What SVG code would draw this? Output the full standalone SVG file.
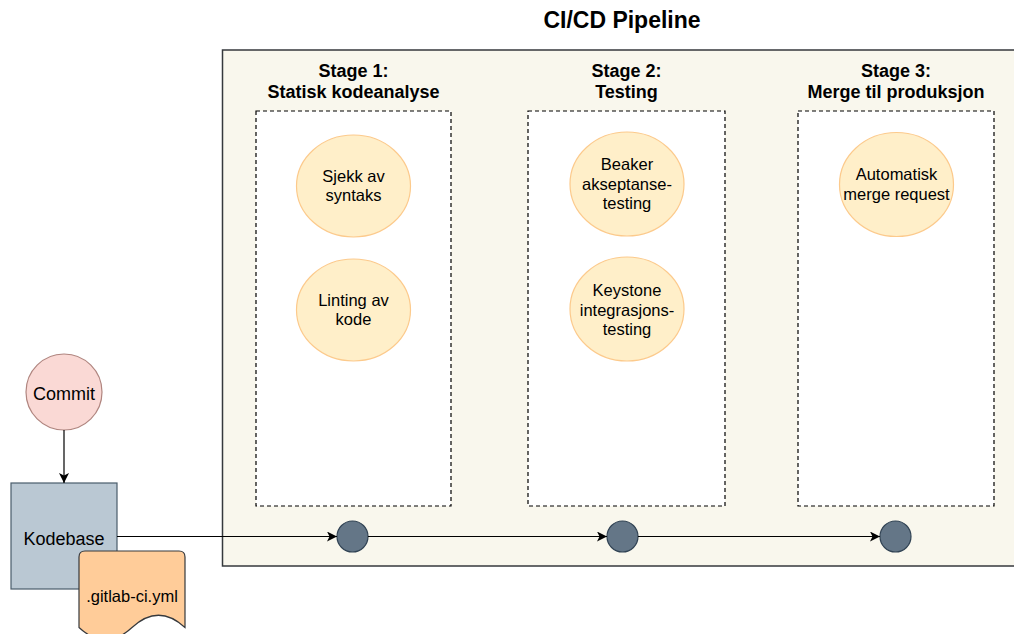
<svg xmlns="http://www.w3.org/2000/svg" width="1014" height="634" viewBox="0 0 1014 634">
  <style>
    text { font-family: "Liberation Sans", Arial, sans-serif; fill: #000; text-anchor: middle; }
    .title { font-size: 23px; font-weight: bold; }
    .stage { font-size: 18px; font-weight: bold; }
    .lbl { font-size: 16.5px; }
    .big { font-size: 18px; }
    .step { fill: #ffefc9; stroke: #fcca8c; stroke-width: 1.2; }
    .lane { fill: #ffffff; stroke: #000; stroke-width: 1.2; stroke-dasharray: 4 3; }
    .gate { fill: #647687; stroke: #314354; stroke-width: 1.2; }
    .edge { fill: none; stroke: #000; stroke-width: 1.2; }
  </style>
  <defs>
    <marker id="arrow" viewBox="0 0 10 10" refX="10" refY="5" markerWidth="10" markerHeight="10" markerUnits="userSpaceOnUse" orient="auto">
      <path d="M0,0 L10,5 L0,10 L2.5,5 Z" fill="#000"/>
    </marker>
  </defs>

  <rect width="1014" height="634" fill="#ffffff"/>

  <text class="title" x="622" y="28">CI/CD Pipeline</text>

  <!-- pipeline container -->
  <g id="pipeline">
    <rect x="222.5" y="50" width="800" height="516" fill="#f9f7ed" stroke="#36393d" stroke-width="1.5"/>
  </g>

  <!-- stage 1 -->
  <g id="stage1">
    <text class="stage" x="353.5" y="77">Stage 1:</text>
    <text class="stage" x="353.5" y="98">Statisk kodeanalyse</text>
    <rect class="lane" x="256" y="111" width="195" height="395"/>
  </g>
  <g id="syntax-check">
    <ellipse class="step" cx="353.5" cy="186" rx="57" ry="51"/>
    <text class="lbl" x="353.5" y="182">Sjekk av</text>
    <text class="lbl" x="353.5" y="201">syntaks</text>
  </g>
  <g id="linting">
    <ellipse class="step" cx="353.5" cy="310" rx="57" ry="51"/>
    <text class="lbl" x="353.5" y="306">Linting av</text>
    <text class="lbl" x="353.5" y="325">kode</text>
  </g>

  <!-- stage 2 -->
  <g id="stage2">
    <text class="stage" x="626.5" y="77">Stage 2:</text>
    <text class="stage" x="626.5" y="98">Testing</text>
    <rect class="lane" x="528" y="111" width="197" height="395"/>
  </g>
  <g id="beaker">
    <ellipse class="step" cx="627" cy="184" rx="57" ry="52"/>
    <text class="lbl" x="627" y="170">Beaker</text>
    <text class="lbl" x="627" y="189.5">akseptanse-</text>
    <text class="lbl" x="627" y="209">testing</text>
  </g>
  <g id="keystone">
    <ellipse class="step" cx="627" cy="309" rx="57" ry="52"/>
    <text class="lbl" x="627" y="296">Keystone</text>
    <text class="lbl" x="627" y="315.5">integrasjons-</text>
    <text class="lbl" x="627" y="335">testing</text>
  </g>

  <!-- stage 3 -->
  <g id="stage3">
    <text class="stage" x="896" y="77">Stage 3:</text>
    <text class="stage" x="896" y="98">Merge til produksjon</text>
    <rect class="lane" x="798" y="111" width="196" height="395"/>
  </g>
  <g id="merge-request">
    <ellipse class="step" cx="896.5" cy="184.5" rx="57" ry="52"/>
    <text class="lbl" x="896.5" y="180">Automatisk</text>
    <text class="lbl" x="896.5" y="199.5">merge request</text>
  </g>

  <!-- source side -->
  <g id="commit">
    <circle cx="64" cy="392" r="38" fill="#fad9d5" stroke="#b0857f" stroke-width="1.2"/>
    <text class="big" x="64" y="400">Commit</text>
  </g>
  <g id="kodebase">
    <rect x="11" y="483" width="106" height="106" fill="#bac8d3" stroke="#4a5d6c" stroke-width="1.2"/>
    <text class="big" x="64" y="545">Kodebase</text>
  </g>
  <g id="gitlab-ci">
    <path d="M85,551 H179 Q185,551 185,557 V627.5 Q158.5,603 132,627.5 Q105.5,652 79,627.5 V557 Q79,551 85,551 Z" fill="#ffcc99" stroke="#36393d" stroke-width="1.2"/>
    <text class="lbl" x="132" y="602">.gitlab-ci.yml</text>
  </g>

  <!-- stage gates -->
  <g id="gate1"><circle class="gate" cx="352.5" cy="536.5" r="15.5"/></g>
  <g id="gate2"><circle class="gate" cx="622.5" cy="536.5" r="15.5"/></g>
  <g id="gate3"><circle class="gate" cx="895.5" cy="536.5" r="15.5"/></g>

  <!-- connectors -->
  <g id="connectors">
    <line class="edge" x1="64" y1="430" x2="64" y2="483" marker-end="url(#arrow)"/>
    <line class="edge" x1="117" y1="536.5" x2="337" y2="536.5" marker-end="url(#arrow)"/>
    <line class="edge" x1="368" y1="536.5" x2="607" y2="536.5" marker-end="url(#arrow)"/>
    <line class="edge" x1="638" y1="536.5" x2="880" y2="536.5" marker-end="url(#arrow)"/>
  </g>
</svg>
